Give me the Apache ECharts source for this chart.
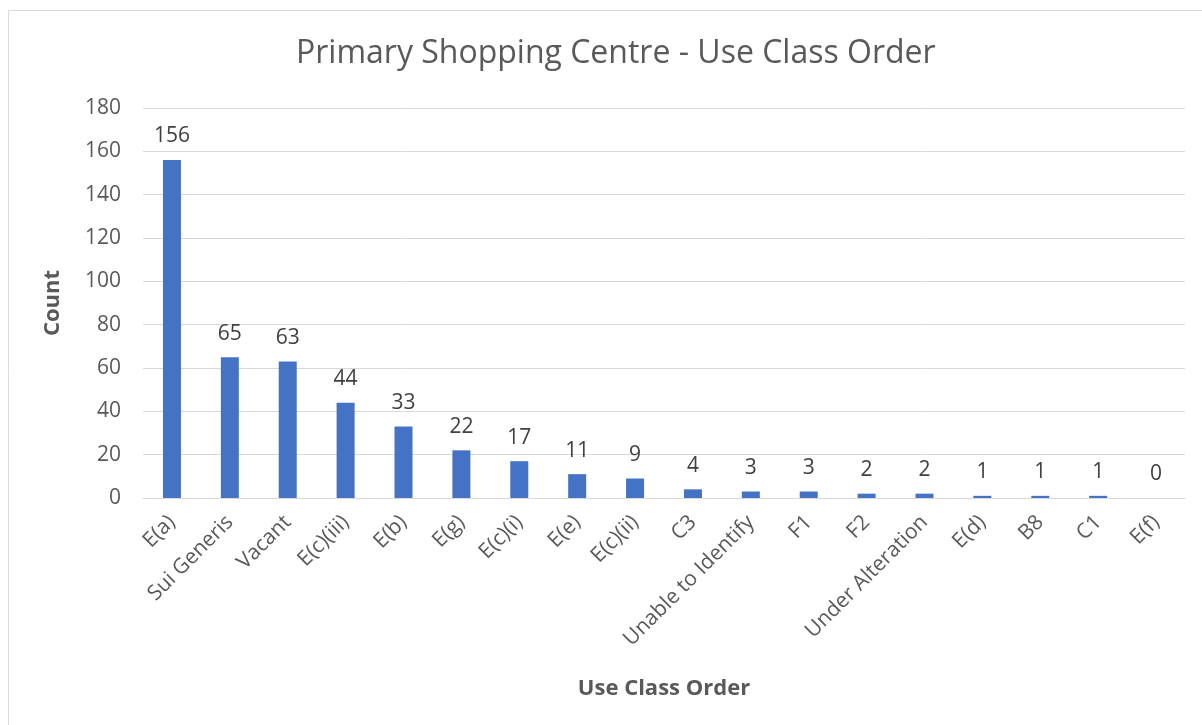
<!DOCTYPE html>
<html>
<head>
<meta charset="utf-8">
<script src="https://cdn.jsdelivr.net/npm/echarts@6/dist/echarts.min.js"></script>
<style>
html, body { margin: 0; padding: 0; background: #fff; }
#myChart { width: 1202px; height: 725px; }
</style>
</head>
<body>
<div id="myChart"></div>
<script>
// categories + counts
const categories = ['E(a)', 'Sui Generis', 'Vacant', 'E(c)(iii)', 'E(b)', 'E(g)', 'E(c)(i)', 'E(e)', 'E(c)(ii)',
  'C3', 'Unable to Identify', 'F1', 'F2', 'Under Alteration', 'E(d)', 'B8', 'C1', 'E(f)'];
const counts = [156, 65, 63, 44, 33, 22, 17, 11, 9, 4, 3, 3, 2, 2, 1, 1, 1, 0];
const yTicks = [0, 20, 40, 60, 80, 100, 120, 140, 160, 180];

const font = '"Open Sans", "Liberation Sans", sans-serif';

let Chart = echarts.init(document.getElementById('myChart'));
Chart.setOption({
  animation: false,
  textStyle: { fontFamily: font },
  graphic: [
    {
      type: 'rect',
      shape: { x: 8.5, y: 10.5, width: 1200, height: 720 },
      style: { fill: 'none', stroke: '#d9d9d9', lineWidth: 1 },
      silent: true
    }
  ],
  title: {
    text: 'Primary Shopping Centre - Use Class Order',
    left: 291,
    top: 33,
    textStyle: { fontFamily: font, fontSize: 32, fontWeight: 'normal', color: '#595959' }
  },
  grid: { left: 143, right: 17, top: 108, bottom: 227, containLabel: false },
  xAxis: {
    type: 'category',
    data: categories,
    name: 'Use Class Order',
    nameLocation: 'middle',
    nameGap: 180,
    nameTextStyle: { fontFamily: font, fontSize: 22, fontWeight: 'bold', color: '#595959' },
    axisLine: { lineStyle: { color: '#d9d9d9', width: 1 } },
    axisTick: { show: false },
    axisLabel: { rotate: 45, interval: 0, fontSize: 21, color: '#595959', margin: 21 }
  },
  yAxis: {
    type: 'value',
    min: yTicks[0],
    max: yTicks[yTicks.length - 1],
    interval: 20,
    name: 'Count',
    nameLocation: 'middle',
    nameGap: 79,
    nameTextStyle: { fontFamily: font, fontSize: 22, fontWeight: 'bold', color: '#595959' },
    axisLine: { show: false },
    axisTick: { show: false },
    axisLabel: { fontSize: 21, color: '#595959', margin: 22 },
    splitLine: { lineStyle: { color: '#d9d9d9', width: 1 } }
  },
  series: [
    {
      name: 'Count',
      type: 'bar',
      data: counts,
      barWidth: 18,
      itemStyle: { color: '#4472c4' },
      label: { show: true, position: 'top', distance: 13, fontSize: 21, color: '#404040' }
    }
  ]
});
</script>
</body>
</html>
